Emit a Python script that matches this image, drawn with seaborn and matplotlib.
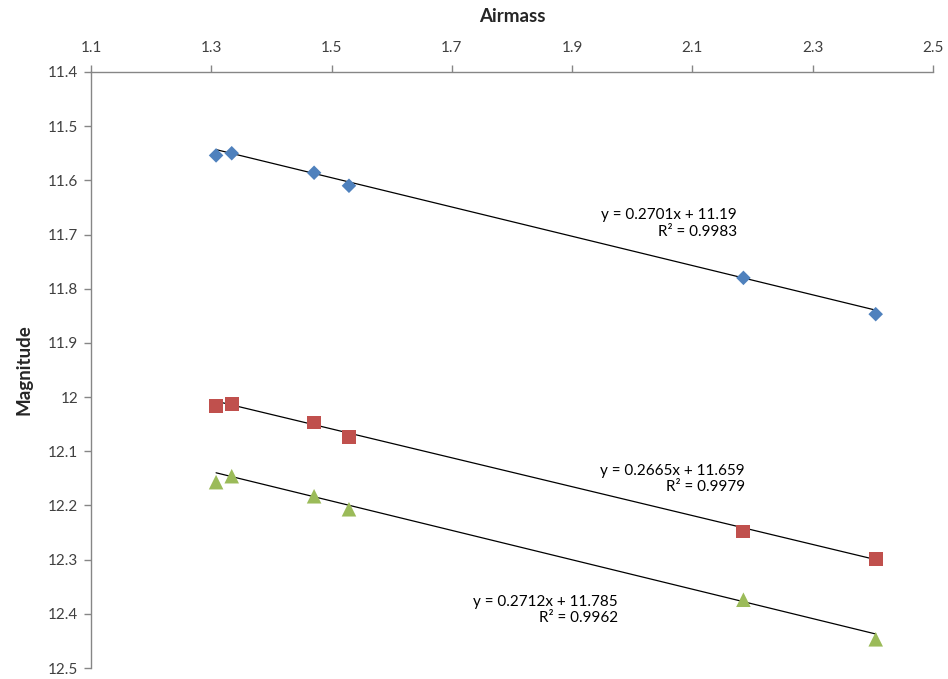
import numpy as np
import pandas as pd
import seaborn as sns
import matplotlib.pyplot as plt

# Airmass of each exposure (same for all three stars)
airmass = [1.308, 1.334, 1.471, 1.529, 2.185, 2.405]

mag_blue = [11.554, 11.550, 11.586, 11.610, 11.780, 11.847]
mag_red = [12.016, 12.013, 12.047, 12.073, 12.248, 12.299]
mag_green = [12.157, 12.146, 12.183, 12.207, 12.374, 12.447]

# Excel trendline coefficients and labels
slopes = [0.2701, 0.2665, 0.2712]
intercepts = [11.19, 11.659, 11.785]
eq_labels = ['y = 0.2701x + 11.19\nR² = 0.9983',
             'y = 0.2665x + 11.659\nR² = 0.9979',
             'y = 0.2712x + 11.785\nR² = 0.9962']
eq_pos = [(2.174, 11.679), (2.1875, 12.151), (1.976, 12.393)]

series = ['blue', 'red', 'green']
colors = {'blue': '#4F81BD', 'red': '#C0504D', 'green': '#9BBB59'}
markers = {'blue': 'D', 'red': 's', 'green': '^'}
sizes = {'blue': 55, 'red': 100, 'green': 110}

df = pd.DataFrame({
    'Airmass': airmass * 3,
    'Magnitude': mag_blue + mag_red + mag_green,
    'series': [s for s in series for _ in airmass],
})

sns.set_style('white')
plt.rcParams['font.family'] = ['Lato', 'DejaVu Sans']

fig = plt.figure(figsize=(9.48, 6.79), dpi=100)
ax = fig.add_axes([0.096, 0.0162, 0.888, 0.8778])

# trendlines over the data range
x_fit = np.array([min(airmass), max(airmass)])
for m, b in zip(slopes, intercepts):
    ax.plot(x_fit, m * x_fit + b, color='black', lw=0.9, zorder=1)

sns.scatterplot(data=df, x='Airmass', y='Magnitude', hue='series', style='series',
                size='series', palette=colors, markers=markers, sizes=sizes,
                linewidth=0, legend=False, ax=ax, zorder=2)

for txt, (tx, ty) in zip(eq_labels, eq_pos):
    ax.text(tx, ty, txt, ha='right', va='center', multialignment='right',
            fontsize=11, color='black', linespacing=1.25)

ax.set_xlim(1.1, 2.5)
ax.set_ylim(12.5, 11.4)
ax.set_xticks(np.arange(1.1, 2.51, 0.2))
ax.set_xticklabels(['1.1', '1.3', '1.5', '1.7', '1.9', '2.1', '2.3', '2.5'])
ax.set_yticks(np.arange(11.4, 12.51, 0.1))
ax.set_yticklabels(['11.4', '11.5', '11.6', '11.7', '11.8', '11.9', '12',
                    '12.1', '12.2', '12.3', '12.4', '12.5'])

ax.xaxis.tick_top()
ax.xaxis.set_label_position('top')
ax.set_xlabel('Airmass', fontsize=13.5, fontweight='bold', labelpad=14)
ax.set_ylabel('Magnitude', fontsize=13.5, fontweight='bold', labelpad=11)

for side in ['right', 'bottom']:
    ax.spines[side].set_visible(False)
for side in ['left', 'top']:
    ax.spines[side].set_color('#868686')
    ax.spines[side].set_linewidth(1)
ax.tick_params(axis='both', direction='out', length=5, width=1, color='#868686',
               labelsize=11, labelcolor='#404040', pad=4)
ax.tick_params(axis='x', top=True, bottom=False, pad=7)
ax.tick_params(axis='y', left=True)

fig.savefig('out.png', dpi=100)
